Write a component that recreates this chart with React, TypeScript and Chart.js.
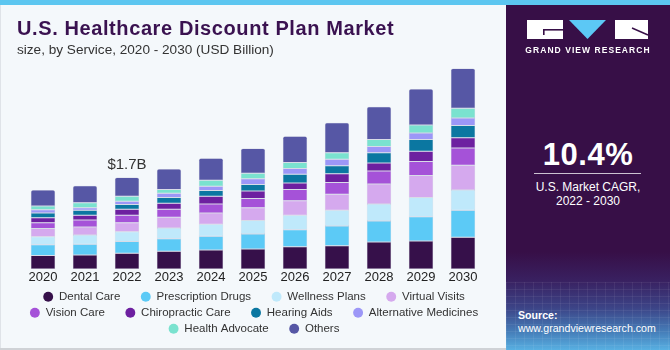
import React, { useEffect, useRef } from "react";
import { Chart, registerables } from "chart.js";

Chart.register(...registerables);

// ---------- data (USD Billion) ----------
const years = ["2020", "2021", "2022", "2023", "2024", "2025", "2026", "2027", "2028", "2029", "2030"];

const dentalCare = [0.25, 0.26, 0.29, 0.33, 0.35, 0.37, 0.41, 0.43, 0.5, 0.52, 0.59];
const prescriptionDrugs = [0.2, 0.2, 0.22, 0.23, 0.26, 0.28, 0.32, 0.37, 0.39, 0.45, 0.5];
const wellnessPlans = [0.15, 0.17, 0.18, 0.2, 0.22, 0.25, 0.27, 0.29, 0.32, 0.36, 0.38];
const virtualVisits = [0.15, 0.15, 0.17, 0.2, 0.21, 0.24, 0.27, 0.3, 0.37, 0.41, 0.46];
const visionCare = [0.11, 0.13, 0.14, 0.15, 0.17, 0.17, 0.21, 0.22, 0.24, 0.26, 0.32];
const chiropracticCare = [0.09, 0.09, 0.11, 0.11, 0.14, 0.14, 0.12, 0.16, 0.15, 0.19, 0.19];
const hearingAids = [0.09, 0.09, 0.09, 0.11, 0.11, 0.12, 0.16, 0.15, 0.19, 0.22, 0.23];
const alternativeMedicines = [0.06, 0.05, 0.06, 0.08, 0.08, 0.11, 0.11, 0.12, 0.12, 0.12, 0.14];
const healthAdvocate = [0.07, 0.09, 0.09, 0.07, 0.11, 0.1, 0.11, 0.12, 0.13, 0.15, 0.18];
const others = [0.3, 0.32, 0.35, 0.38, 0.41, 0.46, 0.49, 0.56, 0.61, 0.67, 0.74];

const seriesNames = [
  "Dental Care",
  "Prescription Drugs",
  "Wellness Plans",
  "Virtual Visits",
  "Vision Care",
  "Chiropractic Care",
  "Hearing Aids",
  "Alternative Medicines",
  "Health Advocate",
  "Others",
];
const seriesValues = [
  dentalCare,
  prescriptionDrugs,
  wellnessPlans,
  virtualVisits,
  visionCare,
  chiropracticCare,
  hearingAids,
  alternativeMedicines,
  healthAdvocate,
  others,
];
const seriesColors = [
  "#36104a",
  "#5ccaf6",
  "#bfe9fb",
  "#d5a9ee",
  "#a552d8",
  "#6d20a0",
  "#0b77a1",
  "#9c97f7",
  "#7ae2cf",
  "#5657a5",
];

const labelYear = "2022";

const FONT = '"Liberation Sans", Arial, sans-serif';

const totalLabelPlugin = {
  id: "totalLabel",
  afterDatasetsDraw(chart: any) {
    const { ctx, scales } = chart;
    const i = years.indexOf(labelYear);
    const total = seriesValues.reduce((s, arr) => s + arr[i], 0);
    const px = scales.x.getPixelForValue(i);
    const py = scales.y.getPixelForValue(total);
    ctx.save();
    ctx.font = `15px ${FONT}`;
    ctx.fillStyle = "#333333";
    ctx.textAlign = "center";
    ctx.textBaseline = "alphabetic";
    ctx.fillText(`$${total.toFixed(1)}B`, px, py - 9);
    ctx.restore();
  },
};

export default function App() {
  const ref = useRef<HTMLCanvasElement>(null);

  useEffect(() => {
    if (!ref.current) return;
    const chart = new Chart(ref.current, {
      type: "bar",
      data: {
        labels: years,
        datasets: seriesNames.map((name, k) => ({
          label: name,
          data: seriesValues[k],
          backgroundColor: seriesColors[k],
          borderColor: "rgba(90,90,140,0.35)",
          borderWidth: 0.5,
          borderRadius: k === seriesNames.length - 1 ? { topLeft: 2, topRight: 2 } : 0,
          borderSkipped: false,
          categoryPercentage: 1,
          barPercentage: 0.58,
        })),
      },
      options: {
        responsive: false,
        animation: false,
        layout: { padding: { top: 54, bottom: 5.5, left: 18, right: 0 } },
        plugins: {
          tooltip: { enabled: false },
          legend: {
            position: "bottom",
            labels: {
              usePointStyle: true,
              pointStyle: "circle",
              boxWidth: 10,
              boxHeight: 7,
              padding: 4.5,
              color: "#333333",
              font: { family: FONT, size: 11.5 },
              generateLabels: (c: any) =>
                Chart.defaults.plugins.legend.labels
                  .generateLabels(c)
                  .map((l: any) => ({ ...l, text: l.text + "     ", lineWidth: 0, strokeStyle: "transparent" })),
            },
          },
        },
        scales: {
          x: {
            stacked: true,
            grid: { display: false, drawTicks: false, tickLength: 0 },
            border: { display: false },
            ticks: { color: "#222222", font: { family: FONT, size: 13 }, padding: 1 },
          },
          y: {
            stacked: true,
            min: 0,
            max: 4,
            grid: { display: false, drawTicks: false },
            border: { display: false },
            ticks: { display: false },
            afterFit: (s: any) => {
              s.width = 4;
            },
          },
          y2: {
            position: "right",
            min: 0,
            max: 4,
            grid: { display: false, drawTicks: false },
            border: { display: false },
            ticks: { display: false },
            afterFit: (s: any) => {
              s.width = 22;
            },
          },
        },
      },
      plugins: [totalLabelPlugin],
    } as any);
    return () => chart.destroy();
  }, []);

  return (
    <div
      style={{
        position: "fixed",
        left: 0,
        top: 0,
        width: 670,
        height: 350,
        background: "#f4f8fb",
        overflow: "hidden",
        fontFamily: FONT,
      }}
    >
      <div style={{ position: "absolute", left: 0, top: 0, width: 1, height: 350, background: "#dfe3e8" }} />
      <div style={{ position: "absolute", left: 0, top: 348, width: 506, height: 2, background: "#cfd2d6" }} />
      <canvas ref={ref} width={506} height={350} style={{ position: "absolute", left: 0, top: 0 }} />
      <div
        style={{
          position: "absolute",
          left: 17,
          top: 18,
          fontSize: 20,
          lineHeight: "20px",
          fontWeight: 700,
          letterSpacing: "0.6px",
          color: "#3a1250",
          whiteSpace: "nowrap",
        }}
      >
        U.S. Healthcare Discount Plan Market
      </div>
      <div
        style={{
          position: "absolute",
          left: 17,
          top: 43,
          fontSize: 13.6,
          lineHeight: "14px",
          color: "#333333",
          whiteSpace: "nowrap",
        }}
      >
        size, by Service, 2020 - 2030 (USD Billion)
      </div>

      {/* right panel */}
      <div
        style={{
          position: "absolute",
          left: 506,
          top: 0,
          width: 164,
          height: 350,
          background:
            "linear-gradient(to bottom, #370f47 0%, #370f47 72%, #392060 80%, #3c4487 88%, #467fba 95%, #58b0e2 100%)",
        }}
      />
      <div
        style={{
          position: "absolute",
          left: 506,
          top: 282,
          width: 164,
          height: 68,
          opacity: 0.5,
          background:
            "repeating-linear-gradient(to right, rgba(255,255,255,0.12) 0px, rgba(255,255,255,0.12) 1px, transparent 1px, transparent 9px), repeating-linear-gradient(to bottom, rgba(255,255,255,0.12) 0px, rgba(255,255,255,0.12) 1px, transparent 1px, transparent 7px)",
        }}
      />
      <div style={{ position: "absolute", left: 0, top: 0, width: 670, height: 5, background: "#5cc6f0" }} />

      <svg style={{ position: "absolute", left: 527, top: 20 }} width={122} height={20}>
        <rect x={0} y={0} width={36} height={19} fill="#ffffff" />
        <rect x={16} y={9} width={20} height={1.6} fill="#370f47" />
        <rect x={16} y={9} width={1.6} height={6} fill="#370f47" />
        <polygon points="42,0 79,0 60.5,19" fill="#5cc8f5" />
        <rect x={88} y={0} width={33} height={19} fill="#ffffff" />
        <line x1={105} y1={8} x2={121} y2={15} stroke="#370f47" strokeWidth={1.4} />
      </svg>
      <div
        style={{
          position: "absolute",
          left: 506,
          top: 46,
          width: 164,
          textAlign: "center",
          color: "#ffffff",
          fontSize: 8.5,
          lineHeight: "9px",
          fontWeight: 700,
          letterSpacing: "1.05px",
          whiteSpace: "nowrap",
        }}
      >
        GRAND VIEW RESEARCH
      </div>

      <div
        style={{
          position: "absolute",
          left: 506,
          top: 138.5,
          width: 164,
          textAlign: "center",
          color: "#ffffff",
          fontSize: 31,
          lineHeight: "31px",
          fontWeight: 700,
          letterSpacing: "0.5px",
        }}
      >
        10.4%
      </div>
      <div style={{ position: "absolute", left: 534, top: 173, width: 107, height: 1, background: "rgba(255,255,255,0.75)" }} />
      <div
        style={{
          position: "absolute",
          left: 506,
          top: 180,
          width: 164,
          textAlign: "center",
          color: "#ffffff",
          fontSize: 12,
          lineHeight: "14px",
        }}
      >
        U.S. Market CAGR,
        <br />
        2022 - 2030
      </div>

      <div
        style={{
          position: "absolute",
          left: 518,
          top: 309,
          color: "#ffffff",
          fontSize: 10.6,
          lineHeight: "13px",
          whiteSpace: "nowrap",
        }}
      >
        <div style={{ fontWeight: 700 }}>Source:</div>
        <div>www.grandviewresearch.com</div>
      </div>
    </div>
  );
}
